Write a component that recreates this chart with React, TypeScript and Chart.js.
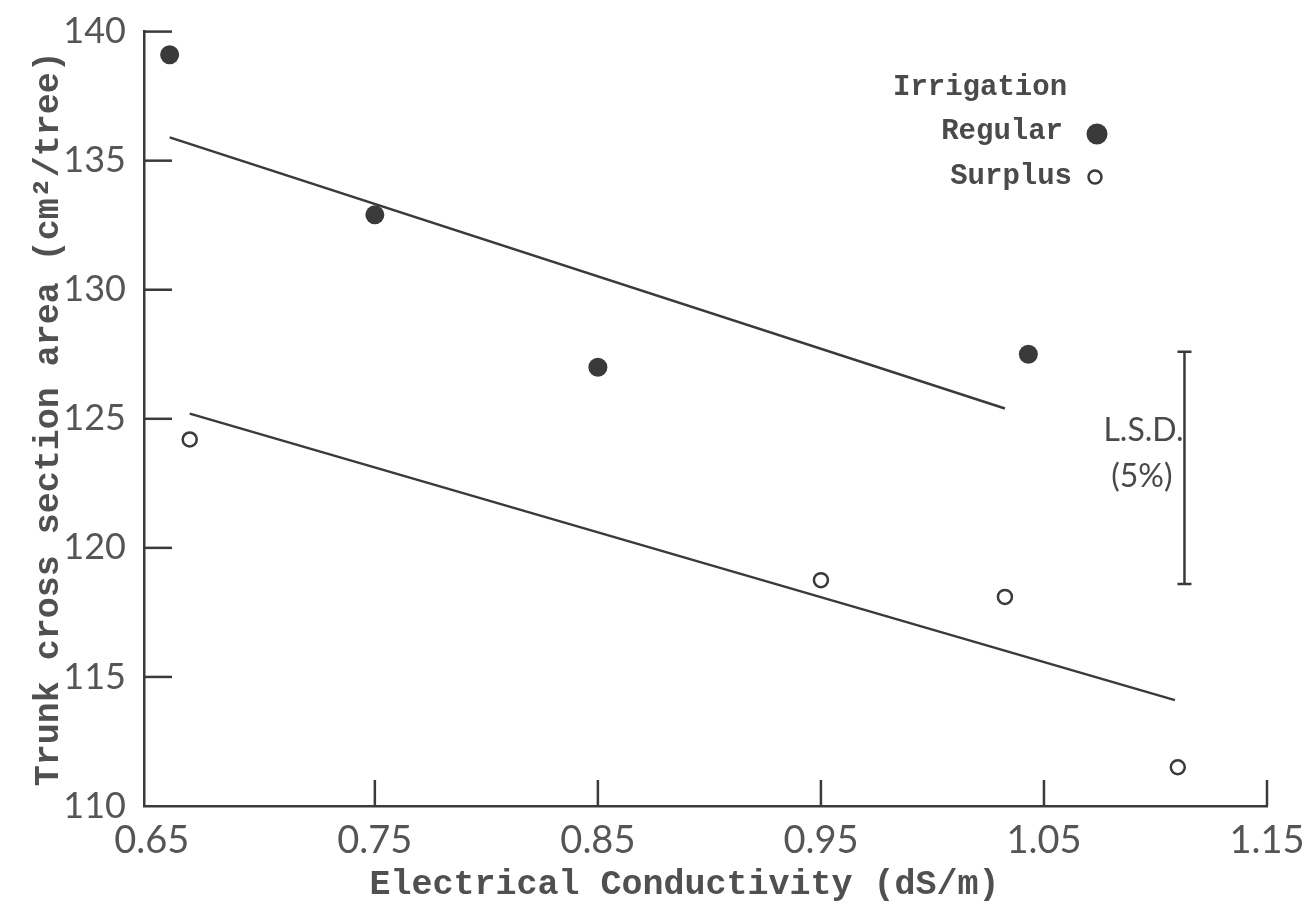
import React, { useEffect, useRef } from "react";
import { Chart, registerables } from "chart.js";

Chart.register(...registerables);

// ---- data ----
const X_TICKS = [0.65, 0.75, 0.85, 0.95, 1.05, 1.15];
const Y_TICKS = [110, 115, 120, 125, 130, 135, 140];

const REGULAR_EC = [0.658, 0.75, 0.85, 1.043];
const REGULAR_AREA = [139.1, 132.9, 127.0, 127.5];

const SURPLUS_EC = [0.667, 0.95, 1.0325, 1.11];
const SURPLUS_AREA = [124.2, 118.75, 118.1, 111.5];

const REGULAR_FIT_EC = [0.658, 1.0325];
const REGULAR_FIT_AREA = [135.9, 125.4];

const SURPLUS_FIT_EC = [0.667, 1.1087];
const SURPLUS_FIT_AREA = [125.2, 114.1];

const LSD_EC = [1.113, 1.113];
const LSD_AREA = [118.6, 127.6];

const LEGEND_TITLE = "Irrigation";
const LEGEND_LABELS = ["Regular", "Surplus"];
const LSD_LABEL = ["L.S.D.", "(5%)"];
const X_TITLE = "Electrical Conductivity (dS/m)";
const Y_TITLE = "Trunk cross section area (cm\u00B2/tree)";

const INK = "#3a3a3a";
const TEXT = "#4a4a4a";
const MONO = '"Liberation Mono", "DejaVu Sans Mono", monospace';
const SANS = 'Lato, "Open Sans", sans-serif';

const pts = (xs: number[], ys: number[]) => xs.map((x, i) => ({ x, y: ys[i] }));

const decorations = {
  id: "decorations",
  afterDatasetsDraw(chart: any) {
    const { ctx, chartArea, scales } = chart;
    const x = scales.x;
    const y = scales.y;
    ctx.save();
    // inward tick marks
    ctx.strokeStyle = INK;
    ctx.lineWidth = 2.5;
    Y_TICKS.slice(1).forEach((v) => {
      const py = y.getPixelForValue(v);
      ctx.beginPath();
      ctx.moveTo(chartArea.left, py);
      ctx.lineTo(chartArea.left + 28, py);
      ctx.stroke();
    });
    X_TICKS.slice(1).forEach((v) => {
      const px = x.getPixelForValue(v);
      ctx.beginPath();
      ctx.moveTo(px, chartArea.bottom);
      ctx.lineTo(px, chartArea.bottom - 26);
      ctx.stroke();
    });

    // LSD label
    const lx = x.getPixelForValue(LSD_EC[0]);
    const mid = (y.getPixelForValue(LSD_AREA[0]) + y.getPixelForValue(LSD_AREA[1])) / 2;
    ctx.fillStyle = TEXT;
    ctx.font = `32px ${SANS}`;
    ctx.textAlign = "right";
    ctx.textBaseline = "middle";
    ctx.fillText(LSD_LABEL[0], lx - 1, mid - 37);
    ctx.fillText(LSD_LABEL[1], lx - 12, mid + 9);

    // legend
    ctx.font = `bold 29px ${MONO}`;
    ctx.textAlign = "left";
    ctx.fillText(LEGEND_TITLE, 893, 88);
    ctx.textAlign = "right";
    ctx.fillText(LEGEND_LABELS[0], 1063, 132);
    ctx.fillText(LEGEND_LABELS[1], 1072, 177);
    ctx.fillStyle = INK;
    ctx.beginPath();
    ctx.arc(1097, 134, 10.5, 0, Math.PI * 2);
    ctx.fill();
    ctx.lineWidth = 2.5;
    ctx.strokeStyle = INK;
    ctx.beginPath();
    ctx.arc(1095, 177, 6.5, 0, Math.PI * 2);
    ctx.stroke();
    ctx.restore();
  },
};

export default function App() {
  const ref = useRef<HTMLCanvasElement | null>(null);

  useEffect(() => {
    if (!ref.current) return;
    const chart = new Chart(ref.current, {
      type: "scatter",
      data: {
        datasets: [
          {
            label: LEGEND_LABELS[0],
            data: pts(REGULAR_EC, REGULAR_AREA),
            pointRadius: 9.5,
            pointBackgroundColor: INK,
            pointBorderColor: INK,
            pointBorderWidth: 0,
            showLine: false,
          },
          {
            label: LEGEND_LABELS[1],
            data: pts(SURPLUS_EC, SURPLUS_AREA),
            pointRadius: 7,
            pointBackgroundColor: "#ffffff",
            pointBorderColor: INK,
            pointBorderWidth: 2.5,
            showLine: false,
          },
          {
            label: "Regular fit",
            data: pts(REGULAR_FIT_EC, REGULAR_FIT_AREA),
            showLine: true,
            pointRadius: 0,
            borderColor: INK,
            borderWidth: 2.5,
          },
          {
            label: "Surplus fit",
            data: pts(SURPLUS_FIT_EC, SURPLUS_FIT_AREA),
            showLine: true,
            pointRadius: 0,
            borderColor: INK,
            borderWidth: 2.5,
          },
          {
            label: "LSD",
            data: pts(LSD_EC, LSD_AREA),
            showLine: true,
            borderColor: INK,
            borderWidth: 2.5,
            pointStyle: "line",
            pointRadius: 7,
            pointBorderColor: INK,
            pointBorderWidth: 2.5,
          },
        ],
      },
      options: {
        animation: false,
        responsive: false,
        maintainAspectRatio: false,
        layout: { padding: { top: 24, right: 49, left: 0, bottom: 0 } },
        plugins: {
          legend: { display: false },
          tooltip: { enabled: false },
        },
        scales: {
          x: {
            type: "linear",
            min: 0.6465,
            max: 1.15,
            afterBuildTicks: (s: any) => {
              s.ticks = X_TICKS.map((v) => ({ value: v }));
            },
            afterFit: (s: any) => {
              s.height = 108;
            },
            grid: { display: false },
            border: { display: true, color: INK, width: 2.5 },
            ticks: {
              color: "#555",
              font: { family: SANS, size: 38 },
              padding: 4,
              callback: (v: any) => Number(v).toFixed(2),
            },
            title: {
              display: true,
              text: X_TITLE + "  ",
              color: "#505050",
              font: { family: MONO, size: 35, weight: "bold" },
              padding: { top: 0, bottom: 8 },
            },
          },
          y: {
            type: "linear",
            min: 110,
            max: 140,
            afterBuildTicks: (s: any) => {
              s.ticks = Y_TICKS.map((v) => ({ value: v }));
            },
            afterFit: (s: any) => {
              s.width = 144;
            },
            grid: { display: false },
            border: { display: true, color: INK, width: 2.5 },
            ticks: {
              color: "#555",
              font: { family: SANS, size: 36 },
              padding: 10,
            },
            title: {
              display: true,
              text: Y_TITLE,
              color: "#505050",
              font: { family: MONO, size: 35, weight: "bold" },
              padding: { top: 28, bottom: 0 },
            },
          },
        },
      },
      plugins: [decorations],
    } as any);
    return () => chart.destroy();
  }, []);

  return (
    <div
      style={{
        position: "fixed",
        left: 0,
        top: 0,
        width: 1316,
        height: 914,
        background: "#ffffff",
      }}
    >
      <canvas ref={ref} width={1316} height={914} />
    </div>
  );
}
